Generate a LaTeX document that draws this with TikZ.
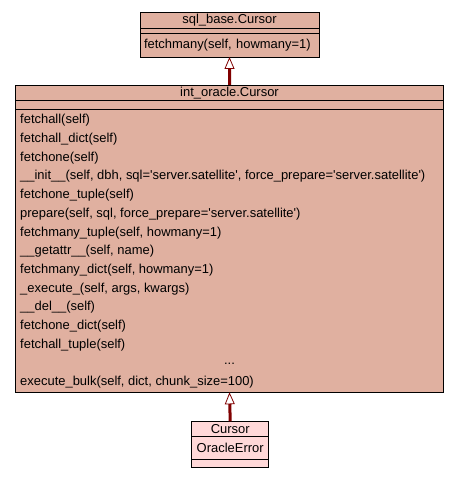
\documentclass[tikz,border=0pt]{standalone}
\usepackage{fontspec}
\setmainfont{Liberation Sans}
\usetikzlibrary{positioning, arrows.meta}
\definecolor{classfill}{HTML}{E0B0A0}
\definecolor{subfill}{HTML}{FFD8D8}
\definecolor{inhred}{HTML}{800000}
\newcommand{\q}{\textquotesingle}
\tikzstyle{part} = [rectangle, draw=black, line width=0.8bp, fill=classfill, outer sep=0pt, inner sep=0pt, font=\fontsize{13}{15}\selectfont]
\tikzstyle{member} = [anchor=west, inner sep=0pt, font=\fontsize{13}{15}\selectfont]
\tikzstyle{inherit} = [draw=inhred, line width=3bp, -{Triangle[length=12bp, width=10bp, line width=0.8bp, fill=white]}]

\begin{document}
\begin{tikzpicture}[x=1bp, y=-1bp]
	\useasboundingbox (0,0) rectangle (459,477);
	% sql_base.Cursor
	\node(baseT)[part, anchor=north west, minimum width=179bp, minimum height=16bp] at (140,12) {sql\_base.Cursor};
	\node(baseA)[part, below=0pt of baseT, minimum width=179bp, minimum height=5bp] {};
	\node(baseM)[part, below=0pt of baseA, minimum width=179bp, minimum height=24bp, text width=171bp, inner xsep=4bp, align=left] {fetchmany(self, howmany=1)};
	% int_oracle.Cursor
	\node(mainT)[part, anchor=north west, minimum width=427.6bp, minimum height=15.7bp] at (15.7,85) {int\_oracle.Cursor};
	\node(mainA)[part, below=0pt of mainT, minimum width=427.6bp, minimum height=8.6bp] {};
	\node(mainM)[part, below=0pt of mainA, minimum width=427.6bp, minimum height=283bp] {};
	\foreach \m [count=\i from 0] in {fetchall(self), fetchall\_dict(self), fetchone(self),
		{\_\_init\_\_(self, dbh, sql=\q server.satellite\q, force\_prepare=\q server.satellite\q)},
		fetchone\_tuple(self), {prepare(self, sql, force\_prepare=\q server.satellite\q)},
		{fetchmany\_tuple(self, howmany=1)}, {\_\_getattr\_\_(self, name)},
		{fetchmany\_dict(self, howmany=1)}, {\_execute\_(self, args, kwargs)},
		\_\_del\_\_(self), fetchone\_dict(self), fetchall\_tuple(self)}
		\node(meth\i)[member] at (20, 120.5+18.7*\i) {\m};
	\node(dots)[member, anchor=center] at (mainM.center |- 0,363.6) {...};
	\node(bulk)[member] at (20,382.3) {execute\_bulk(self, dict, chunk\_size=100)};
	% Cursor / OracleError
	\node(subT)[part, fill=subfill, anchor=north west, minimum width=77bp, minimum height=15.4bp] at (191.7,421.3) {Cursor};
	\node(subA)[part, fill=subfill, below=0pt of subT, minimum width=77bp, minimum height=22.6bp] {OracleError};
	\node(subM)[part, fill=subfill, below=0pt of subA, minimum width=77bp, minimum height=8bp] {};
	% inheritance
	\draw [inherit] (mainT.north) -- (baseM.south);
	\draw [inherit] (subT.north) -- (mainM.south);
\end{tikzpicture}
\end{document}
